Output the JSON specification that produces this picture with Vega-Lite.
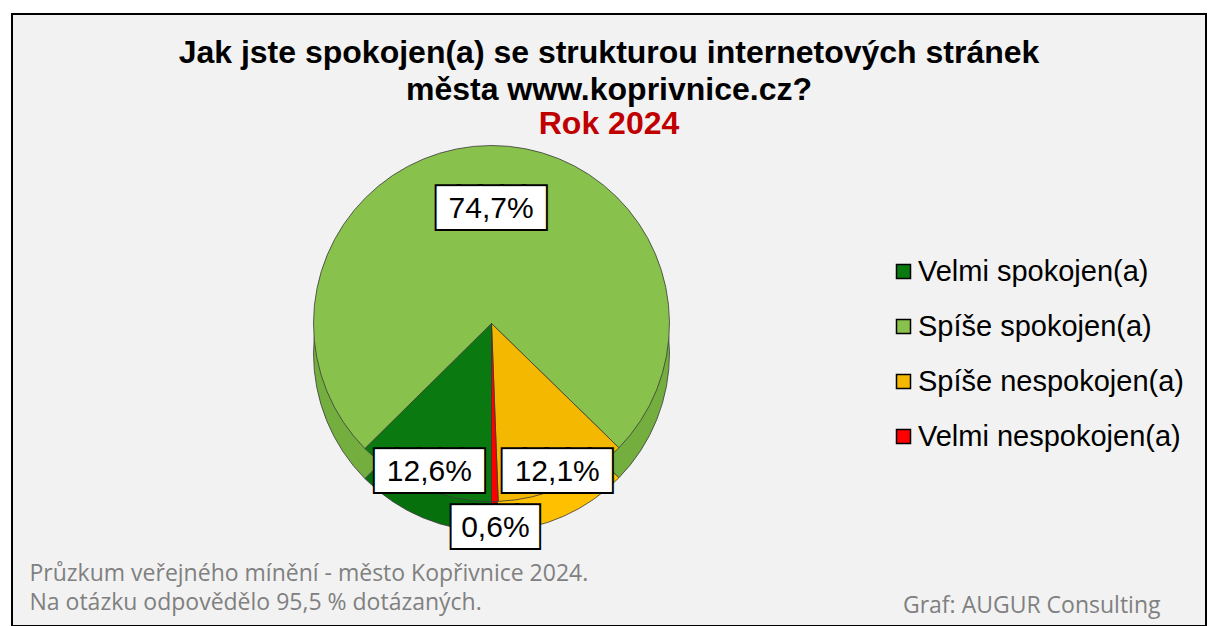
{
  "$schema": "https://vega.github.io/schema/vega-lite/v6.json",
  "width": 1208,
  "height": 626,
  "autosize": {"type": "fit", "contains": "padding"},
  "padding": {"left": 9, "top": 11, "right": 2, "bottom": 0},
  "background": "white",
  "config": {
    "view": {"fill": "#f2f2f2", "stroke": "black", "strokeWidth": 2},
    "locale": {"number": {"decimal": ",", "thousands": " ", "grouping": [3], "currency": ["", " Kč"]}}
  },
  "title": {
    "text": ["Jak jste spokojen(a) se strukturou internetových stránek", "města www.koprivnice.cz?"],
    "subtitle": "Rok 2024",
    "anchor": "middle",
    "frame": "group",
    "offset": -130,
    "font": "Liberation Sans",
    "fontSize": 32,
    "fontWeight": "bold",
    "color": "black",
    "lineHeight": 37,
    "subtitleFont": "Liberation Sans",
    "subtitleFontSize": 32,
    "subtitleFontWeight": "bold",
    "subtitleColor": "#c00000",
    "subtitlePadding": 2,
    "subtitleLineHeight": 35
  },
  "data": {
    "values": [
      {"kategorie": "Velmi spokojen(a)", "podil": 0.126, "poradi": 1},
      {"kategorie": "Spíše spokojen(a)", "podil": 0.747, "poradi": 2},
      {"kategorie": "Spíše nespokojen(a)", "podil": 0.121, "poradi": 3},
      {"kategorie": "Velmi nespokojen(a)", "podil": 0.006, "poradi": 4}
    ]
  },
  "resolve": {"scale": {"color": "independent"}},
  "layer": [
    {
      "mark": {"type": "arc", "radius": 178, "xOffset": -117.5, "yOffset": 33.5, "stroke": "#3a3a3a", "strokeWidth": 0.8},
      "encoding": {
        "theta": {"field": "podil", "type": "quantitative", "stack": true, "scale": {"range": [3.14159265, 9.42477796]}},
        "color": {
          "field": "kategorie",
          "type": "nominal",
          "scale": {
            "domain": ["Velmi spokojen(a)", "Spíše spokojen(a)", "Spíše nespokojen(a)", "Velmi nespokojen(a)"],
            "range": ["#06700c", "#74ae3e", "#ffc000", "#e80000"]
          },
          "legend": null
        },
        "order": {"field": "poradi", "type": "quantitative"}
      }
    },
    {
      "mark": {"type": "arc", "radius": 178, "xOffset": -117.5, "yOffset": 3.5, "stroke": "#3a3a3a", "strokeWidth": 0.8},
      "encoding": {
        "theta": {"field": "podil", "type": "quantitative", "stack": true},
        "color": {
          "field": "kategorie",
          "type": "nominal",
          "scale": {
            "domain": ["Velmi spokojen(a)", "Spíše spokojen(a)", "Spíše nespokojen(a)", "Velmi nespokojen(a)"],
            "range": ["#0a7a10", "#88c24d", "#f4b800", "#ff0000"]
          },
          "legend": {
            "orient": "none",
            "legendX": 877,
            "legendY": 243,
            "title": null,
            "symbolType": "square",
            "symbolSize": 196,
            "symbolStrokeColor": "black",
            "symbolStrokeWidth": 1.5,
            "labelFont": "Liberation Sans",
            "labelFontSize": 29,
            "labelColor": "black",
            "labelOffset": 0,
            "rowPadding": 25,
            "labelLimit": 400,
            "padding": 0
          }
        },
        "order": {"field": "poradi", "type": "quantitative"}
      }
    },
    {
      "mark": {"type": "text", "xOffset": -117.5, "yOffset": 3.5, "font": "DejaVu Sans Mono", "fontSize": 36, "fill": "black", "stroke": "black", "strokeWidth": 4, "align": "center", "baseline": "middle"},
      "encoding": {
        "theta": {"field": "podil", "type": "quantitative", "stack": true},
        "radius": {"field": "podil", "type": "quantitative", "scale": {"type": "pow", "exponent": 0.25, "domain": [0.006, 0.747], "range": [205, 115]}},
        "detail": {"field": "kategorie"},
        "order": {"field": "poradi", "type": "quantitative"},
        "text": {"condition": {"test": "datum.podil < 0.1", "value": "████"}, "value": "█████"}
      }
    },
    {
      "mark": {"type": "text", "xOffset": -117.5, "yOffset": 3.5, "font": "DejaVu Sans Mono", "fontSize": 36, "fill": "white", "align": "center", "baseline": "middle"},
      "encoding": {
        "theta": {"field": "podil", "type": "quantitative", "stack": true},
        "radius": {"field": "podil", "type": "quantitative"},
        "detail": {"field": "kategorie"},
        "order": {"field": "poradi", "type": "quantitative"},
        "text": {"condition": {"test": "datum.podil < 0.1", "value": "████"}, "value": "█████"}
      }
    },
    {
      "mark": {"type": "text", "xOffset": -117.5, "yOffset": 3.5, "font": "Liberation Sans", "fontSize": 30, "fill": "black", "align": "center", "baseline": "middle"},
      "encoding": {
        "theta": {"field": "podil", "type": "quantitative", "stack": true},
        "radius": {"field": "podil", "type": "quantitative"},
        "detail": {"field": "kategorie"},
        "order": {"field": "poradi", "type": "quantitative"},
        "text": {"field": "podil", "type": "quantitative", "format": ".1%"}
      }
    },
    {
      "mark": {"type": "point", "opacity": 0},
      "encoding": {
        "x": {
          "datum": 0,
          "type": "quantitative",
          "axis": {
            "domain": false, "ticks": false, "labels": false, "grid": false,
            "title": ["Průzkum veřejného mínění - město Kopřivnice 2024.", "Na otázku odpovědělo 95,5 % dotázaných."],
            "titleFont": "Open Sans", "titleFontSize": 23, "titleFontWeight": "normal", "titleColor": "#808080",
            "titleAnchor": "start", "titleAlign": "left", "titleBaseline": "top",
            "titleX": 17, "titleY": -64, "titleLineHeight": 29
          }
        },
        "y": {
          "datum": 0,
          "type": "quantitative",
          "axis": {
            "orient": "right",
            "domain": false, "ticks": false, "labels": false, "grid": false,
            "title": "Graf: AUGUR Consulting",
            "titleFont": "Open Sans", "titleFontSize": 23, "titleFontWeight": "normal", "titleColor": "#808080",
            "titleAngle": 0, "titleAlign": "right", "titleBaseline": "top",
            "titleX": -46, "titleY": 580
          }
        }
      }
    }
  ]
}
